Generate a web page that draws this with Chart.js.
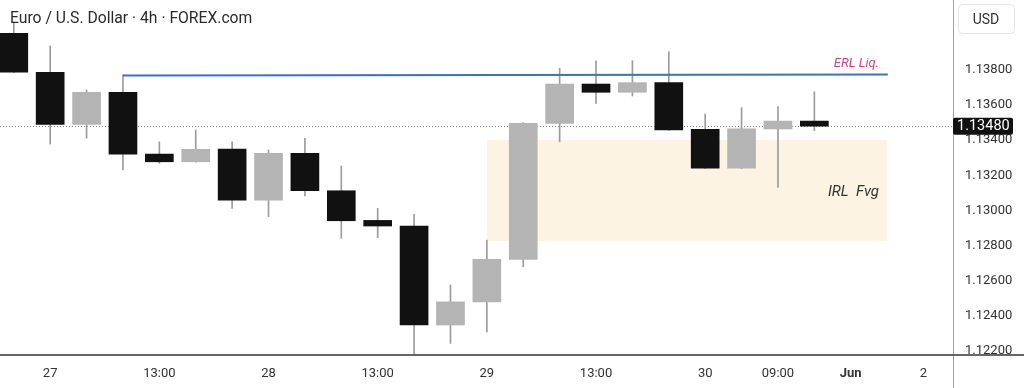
<!DOCTYPE html>
<html><head><meta charset="utf-8">
<script src="https://cdn.jsdelivr.net/npm/chart.js@4.4.1/dist/chart.umd.min.js"></script>
<style>html,body{margin:0;padding:0;background:#fff;overflow:hidden}#wrap{width:1024px;height:388px;position:relative}canvas{display:block}</style>
</head><body><div id="wrap"><canvas id="c" width="1024" height="388"></canvas></div>
<script>
// ---- data (4h candles, index 0..22) ----
const candleIndex = [0,1,2,3,4,5,6,7,8,9,10,11,12,13,14,15,16,17,18,19,20,21,22];
const openPrices  = [1.14009,1.13787,1.13490,1.13673,1.13321,1.13277,1.13350,1.13059,1.13325,1.13112,1.12943,1.12911,1.12347,1.12479,1.12721,1.13496,1.13720,1.13673,1.13728,1.13462,1.13240,1.13464,1.13509];
const highPrices  = [1.14068,1.13937,1.13686,1.13772,1.13391,1.13458,1.13391,1.13344,1.13411,1.13253,1.13012,1.12977,1.12575,1.12831,1.13500,1.13810,1.13853,1.13853,1.13904,1.13549,1.13585,1.13591,1.13676];
const lowPrices   = [1.13785,1.13378,1.13412,1.13230,1.13268,1.13275,1.13012,1.12964,1.13082,1.12841,1.12844,1.12181,1.12242,1.12308,1.12679,1.13391,1.13610,1.13652,1.13456,1.13238,1.13238,1.13131,1.13454];
const closePrices = [1.13787,1.13490,1.13673,1.13320,1.13277,1.13348,1.13059,1.13325,1.13112,1.12941,1.12911,1.12347,1.12479,1.12721,1.13496,1.13720,1.13673,1.13728,1.13458,1.13240,1.13465,1.13509,1.13480];

const xTickPositions = [1,4,7,10,13,16,19,21,23,25];
const xTickLabels    = ['27','13:00','28','13:00','29','13:00','30','09:00','Jun','2'];
const yTickValues    = [1.122,1.124,1.126,1.128,1.130,1.132,1.134,1.136,1.138];

const erlLineX = [3, 24.02];
const erlLineY = [1.13768, 1.13775];
const fvgX = [13.0, 23.99];
const fvgY = [1.12826, 1.13401];
const lastPrice = 1.13480;

const titleText = 'Euro / U.S. Dollar · 4h · FOREX.com';
const FONT = 'Roboto, "Noto Sans", sans-serif';

const bodyColors = candleIndex.map(i => closePrices[i] < openPrices[i] ? '#111111' : '#b4b4b4');

const deco = {
  id: 'deco',
  beforeDatasetsDraw(chart) {
    const {ctx, scales:{x, y}, chartArea:a} = chart;
    ctx.save();
    const x0 = x.getPixelForValue(fvgX[0]), x1 = x.getPixelForValue(fvgX[1]);
    const y0 = y.getPixelForValue(fvgY[1]), y1 = y.getPixelForValue(fvgY[0]);
    ctx.fillStyle = '#fdf3e2';
    ctx.fillRect(x0, y0, x1 - x0, y1 - y0);
    const py = Math.round(y.getPixelForValue(lastPrice)) + 0.5;
    ctx.strokeStyle = '#8a8a8a';
    ctx.lineWidth = 1;
    ctx.setLineDash([1, 2]);
    ctx.beginPath(); ctx.moveTo(a.left, py); ctx.lineTo(a.right, py); ctx.stroke();
    ctx.restore();
  },
  afterDraw(chart) {
    const {ctx, scales:{x, y}, chartArea:a, width, height} = chart;
    ctx.save();
    ctx.strokeStyle = '#a0a0a0'; ctx.lineWidth = 1;
    ctx.beginPath(); ctx.moveTo(a.right + 0.5, 0); ctx.lineTo(a.right + 0.5, height); ctx.stroke();
    ctx.strokeStyle = '#333'; ctx.lineWidth = 1.5;
    ctx.beginPath(); ctx.moveTo(0, a.bottom); ctx.lineTo(width, a.bottom); ctx.stroke();
    ctx.fillStyle = '#2b2b2b';
    ctx.font = '15.7px ' + FONT;
    ctx.textAlign = 'left'; ctx.textBaseline = 'middle';
    ctx.fillText(titleText, 10, 19);
    ctx.fillStyle = '#c84a87';
    ctx.font = 'italic 13px ' + FONT;
    ctx.textAlign = 'right';
    ctx.fillText('ERL Liq.', 879, 64);
    ctx.fillStyle = '#333';
    ctx.font = 'italic 15px ' + FONT;
    ctx.fillText('IRL  Fvg', 879, 192);
    ctx.strokeStyle = '#e4e4e4'; ctx.lineWidth = 1;
    ctx.beginPath(); ctx.roundRect(958.5, 4.5, 56, 29, 4); ctx.stroke();
    ctx.fillStyle = '#333'; ctx.font = '14px ' + FONT; ctx.textAlign = 'center';
    ctx.fillText('USD', 986, 20);
    const py = y.getPixelForValue(lastPrice);
    ctx.fillStyle = '#111';
    ctx.beginPath(); ctx.roundRect(a.right, py - 8.5, 60, 17, 2); ctx.fill();
    ctx.fillStyle = '#fff'; ctx.font = '14.5px ' + FONT; ctx.textAlign = 'left';
    ctx.fillText(lastPrice.toFixed(5), 957, py + 0.5);
    ctx.restore();
  }
};

new Chart(document.getElementById('c'), {
  type: 'bar',
  data: {
    datasets: [
      {
        type: 'line', order: 0,
        data: erlLineX.map((v, i) => ({x: v, y: erlLineY[i]})),
        borderColor: '#3b6fce', borderWidth: 2, pointRadius: 0, tension: 0
      },
      {
        order: 1, grouped: false,
        data: candleIndex.map(i => ({x: i, y: [openPrices[i], closePrices[i]]})),
        backgroundColor: bodyColors, barThickness: 28, minBarLength: 2, borderWidth: 0
      },
      {
        order: 2, grouped: false,
        data: candleIndex.map(i => ({x: i, y: [lowPrices[i], highPrices[i]]})),
        backgroundColor: '#9c9c9c', barThickness: 1, borderWidth: 0
      }
    ]
  },
  options: {
    responsive: false, animation: false, devicePixelRatio: 1,
    layout: {padding: 0},
    plugins: {legend: {display: false}, tooltip: {enabled: false}},
    scales: {
      x: {
        type: 'linear', offset: false, min: -0.379, max: 25.81,
        grid: {display: false, drawTicks: false}, border: {display: false},
        afterBuildTicks: s => { s.ticks = xTickPositions.map(v => ({value: v})); },
        afterFit: s => { s.height = 33; s.paddingLeft = 0; s.paddingRight = 0; },
        ticks: {
          autoSkip: false, maxRotation: 0, padding: 11, color: '#333',
          font: c => ({family: FONT, size: 13, weight: (c.tick && c.tick.value === 23) ? 'bold' : 'normal'}),
          callback: v => xTickLabels[xTickPositions.indexOf(v)]
        }
      },
      y: {
        type: 'linear', position: 'right', min: 1.121761, max: 1.141989, beginAtZero: false,
        grid: {display: false, drawTicks: false}, border: {display: false},
        afterBuildTicks: s => { s.ticks = yTickValues.map(v => ({value: v})); },
        afterFit: s => { s.width = 71; s.paddingTop = 0; s.paddingBottom = 0; },
        ticks: {
          autoSkip: false, padding: 12, color: '#333', crossAlign: 'near',
          font: {family: FONT, size: 13},
          callback: v => Number(v).toFixed(5)
        }
      }
    }
  },
  plugins: [deco]
});
</script>
</body></html>
